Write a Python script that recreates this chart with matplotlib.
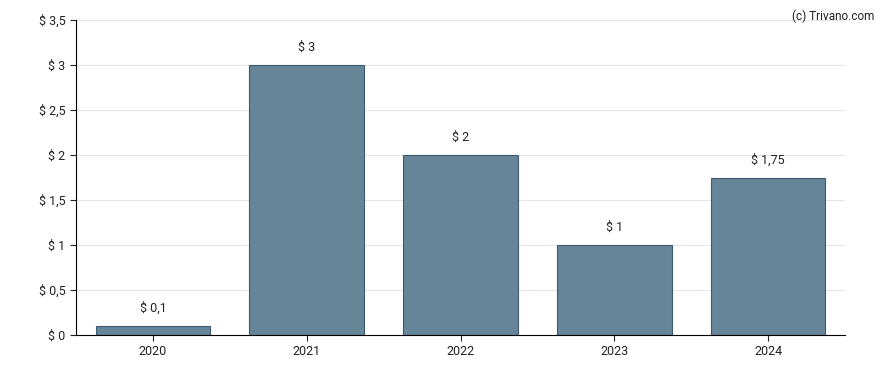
import matplotlib
matplotlib.use("Agg")
import matplotlib.pyplot as plt

plt.rcParams['font.family'] = ['Roboto', 'DejaVu Sans']

years = ["2020", "2021", "2022", "2023", "2024"]
values = [0.1, 3, 2, 1, 1.75]
labels = ["$ 0,1", "$ 3", "$ 2", "$ 1", "$ 1,75"]
yticks = [0, 0.5, 1, 1.5, 2, 2.5, 3, 3.5]
ytick_labels = ["$ 0", "$ 0,5", "$ 1", "$ 1,5", "$ 2", "$ 2,5", "$ 3", "$ 3,5"]

fig = plt.figure(figsize=(8.88, 3.70), dpi=100)
ax = fig.add_axes([0.0856, 0.0946, 0.866, 0.8513])

x = range(len(years))
ax.bar(x, values, width=0.745, color="#678599", edgecolor="#3f5a70", linewidth=0.8, zorder=2)

for i, (v, lab) in enumerate(zip(values, labels)):
    ax.annotate(lab, (i, v), xytext=(0, 8), textcoords="offset points",
                ha="center", va="bottom", fontsize=9, color="#222222")

ax.set_xlim(-0.5, 4.5)
ax.set_ylim(0, 3.5)
ax.set_xticks(list(x))
ax.set_xticklabels(years)
ax.set_yticks(yticks)
ax.set_yticklabels(ytick_labels)
ax.tick_params(labelsize=9, colors="#222222", length=4, width=0.8)
ax.grid(axis="y", color="#e6e6e6", linewidth=0.8, zorder=0)
ax.spines["top"].set_visible(False)
ax.spines["right"].set_visible(False)
ax.spines["left"].set_color("black")
ax.spines["bottom"].set_color("black")

fig.text(0.985, 0.975, "(c) Trivano.com", ha="right", va="top", fontsize=8.5, color="#222222")

fig.savefig("out.png", dpi=100)
